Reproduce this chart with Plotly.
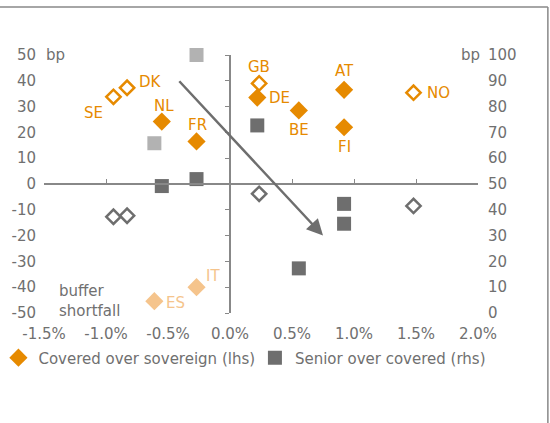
import plotly.graph_objects as go

# covered over sovereign spread (lhs, bp) vs x-axis (%)
core_countries = ["NL", "FR", "DE", "BE", "AT", "FI"]
core_x = [-0.55, -0.27, 0.22, 0.555, 0.92, 0.92]
core_covered = [24.2, 16.5, 33.5, 28.5, 36.5, 22.0]
core_senior = [49.2, 51.9, 72.7, 17.3, 42.3, 34.6]

nonemu_countries = ["SE", "DK", "GB", "NO"]
nonemu_x = [-0.94, -0.83, 0.235, 1.48]
nonemu_covered = [33.8, 37.3, 39.0, 35.4]
nonemu_senior = [37.3, 37.7, 46.2, 41.5]

periph_countries = ["ES", "IT"]
periph_x = [-0.61, -0.27]
periph_covered = [-45.4, -40.0]
periph_senior = [65.8, 100.0]

x_ticks = [-1.5, -1.0, -0.5, 0.0, 0.5, 1.0, 1.5, 2.0]
x_ticktext = ["-1.5%", "-1.0%", "-0.5%", "0.0%", "0.5%", "1.0%", "1.5%", "2.0%"]
lhs_ticks = [-50, -40, -30, -20, -10, 0, 10, 20, 30, 40, 50]
rhs_ticks = [0, 10, 20, 30, 40, 50, 60, 70, 80, 90, 100]

# label offsets (px) for the country names
label_shift = {
    "NL": (2, 16), "FR": (1, 16), "DE": (22, 0), "BE": (0, -20), "AT": (0, 19),
    "FI": (0, -20), "SE": (-20, -16), "DK": (23, 6), "GB": (0, 16), "NO": (25, 0),
    "ES": (21, -2), "IT": (16, 11),
}

ORANGE = "#E68A00"
LIGHT_ORANGE = "#F5C48C"
DARK_GREY = "#6E6E6E"
LIGHT_GREY = "#B2B2B2"
TEXT_GREY = "#707070"
AXIS_GREY = "#888888"
FONT = "DejaVu Sans"

fig = go.Figure()

fig.add_trace(go.Scatter(
    x=core_x, y=core_covered, mode="markers", name="Covered over sovereign (lhs)",
    marker=dict(symbol="diamond", size=14, color=ORANGE), cliponaxis=False, legend="legend",
))
fig.add_trace(go.Scatter(
    x=core_x, y=core_senior, mode="markers", name="Senior over covered (rhs)", yaxis="y2",
    marker=dict(symbol="square", size=14, color=DARK_GREY), cliponaxis=False, legend="legend2",
))
fig.add_trace(go.Scatter(
    x=nonemu_x, y=nonemu_covered, mode="markers", showlegend=False, cliponaxis=False,
    marker=dict(symbol="diamond-open", size=11, color=ORANGE, line=dict(width=2.5)),
))
fig.add_trace(go.Scatter(
    x=periph_x, y=periph_covered, mode="markers", showlegend=False, cliponaxis=False,
    marker=dict(symbol="diamond", size=14, color=LIGHT_ORANGE),
))
fig.add_trace(go.Scatter(
    x=nonemu_x, y=nonemu_senior, mode="markers", showlegend=False, yaxis="y2", cliponaxis=False,
    marker=dict(symbol="diamond-open", size=11, color=DARK_GREY, line=dict(width=2.5)),
))
fig.add_trace(go.Scatter(
    x=periph_x, y=periph_senior, mode="markers", showlegend=False, yaxis="y2", cliponaxis=False,
    marker=dict(symbol="square", size=14, color=LIGHT_GREY),
))
# empty trace so the crossing axes (x2 / y3) get drawn
fig.add_trace(go.Scatter(x=[None], y=[None], xaxis="x2", yaxis="y3", showlegend=False,
                         hoverinfo="skip"))

annotations = []
for names, xs, ys, col in [
    (core_countries, core_x, core_covered, ORANGE),
    (nonemu_countries, nonemu_x, nonemu_covered, ORANGE),
    (periph_countries, periph_x, periph_covered, LIGHT_ORANGE),
]:
    for n, xv, yv in zip(names, xs, ys):
        dx, dy = label_shift[n]
        annotations.append(dict(
            x=xv, y=yv, text=n, showarrow=False, xshift=dx, yshift=dy,
            font=dict(size=15, color=col, family=FONT),
        ))

# direction arrow
annotations.append(dict(
    x=0.75, y=-20, ax=-0.42, ay=40.4, xref="x", yref="y", axref="x", ayref="y",
    text="", showarrow=True, arrowhead=2, arrowsize=1.3, arrowwidth=2.5, arrowcolor=DARK_GREY,
))
annotations.append(dict(
    x=-1.395, y=-45.4, text="buffer<br>shortfall", showarrow=False, xanchor="left", align="left",
    font=dict(size=15, color=TEXT_GREY, family=FONT),
))
annotations.append(dict(
    x=0.0, y=1.0, xref="paper", yref="paper", text="bp", showarrow=False, xanchor="left",
    yanchor="middle", font=dict(size=15, color=TEXT_GREY, family=FONT),
))
annotations.append(dict(
    x=1.01, y=1.0, xref="paper", yref="paper", text="bp", showarrow=False, xanchor="right",
    yanchor="middle", font=dict(size=15, color=TEXT_GREY, family=FONT),
))

axis_font = dict(size=15, color=TEXT_GREY, family=FONT)
legend_font = dict(size=15, color=TEXT_GREY, family=FONT)

fig.update_layout(
    width=550, height=423,
    margin=dict(l=44, r=72, t=55, b=110, autoexpand=False),
    plot_bgcolor="white", paper_bgcolor="white",
    font=dict(family=FONT, size=15, color=TEXT_GREY),
    xaxis=dict(
        range=[-1.5, 2.0], tickvals=x_ticks, ticktext=x_ticktext, showgrid=False,
        zeroline=False, showline=False, ticks="", tickfont=axis_font, ticklabelstandoff=10,
    ),
    xaxis2=dict(
        range=[-1.5, 2.0], overlaying="x", anchor="free", position=0.5, side="bottom",
        tickvals=x_ticks, showticklabels=False, showgrid=False, zeroline=False,
        showline=True, linecolor=AXIS_GREY, linewidth=1.5, ticks="inside", ticklen=4,
        tickcolor=AXIS_GREY,
    ),
    yaxis=dict(
        range=[-50, 50], tickvals=lhs_ticks, ticktext=[str(v) for v in lhs_ticks],
        showgrid=False, zeroline=False, showline=False, ticks="", tickfont=axis_font,
        ticklabelstandoff=7,
    ),
    yaxis2=dict(
        range=[0, 100], overlaying="y", side="right", tickvals=rhs_ticks,
        showgrid=False, zeroline=False, showline=False, ticks="", tickfont=axis_font,
        ticklabelstandoff=9,
    ),
    yaxis3=dict(
        range=[-50, 50], overlaying="y", anchor="free", position=1.5 / 3.5, side="left",
        tickvals=lhs_ticks, showticklabels=False, showgrid=False, zeroline=False,
        showline=True, linecolor=AXIS_GREY, linewidth=1.5, ticks="outside", ticklen=4,
        tickcolor=AXIS_GREY,
    ),
    legend=dict(
        orientation="h", x=-0.105, xanchor="left", y=-0.174, yanchor="middle",
        font=legend_font, bgcolor="rgba(0,0,0,0)",
    ),
    legend2=dict(
        orientation="h", x=0.486, xanchor="left", y=-0.174, yanchor="middle",
        font=legend_font, bgcolor="rgba(0,0,0,0)",
    ),
    annotations=annotations,
    shapes=[
        dict(type="line", xref="paper", yref="paper", x0=-0.11, x1=1.161, y0=1.186, y1=1.186,
             line=dict(color=AXIS_GREY, width=1.5)),
        dict(type="line", xref="paper", yref="paper", x0=1.161, x1=1.161, y0=1.186, y1=-0.43,
             line=dict(color=AXIS_GREY, width=1.5)),
    ],
)

# drop the page's default body margin so the figure sits at the window origin
fig.write_html("out.html", config={"displayModeBar": False},
               post_script="document.body.style.margin = '0';")
